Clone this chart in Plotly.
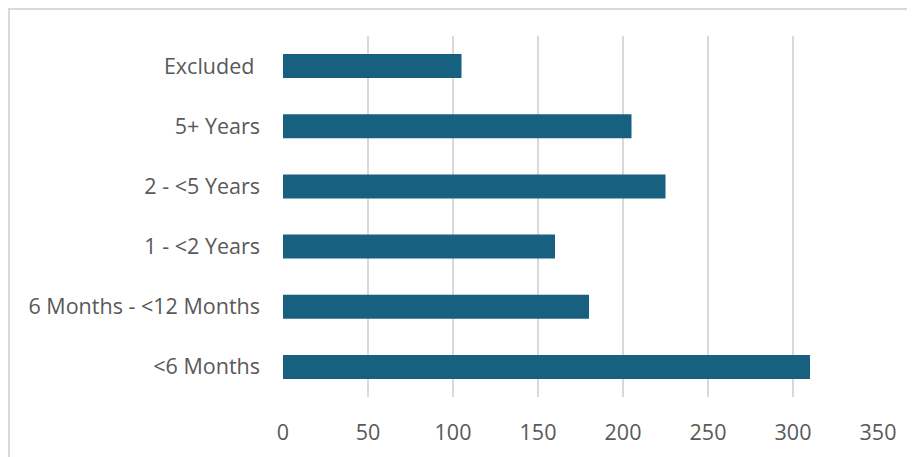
import plotly.graph_objects as go

categories = ["<6 Months", "6 Months - <12 Months", "1 - <2 Years", "2 - <5 Years", "5+ Years", "Excluded "]
values = [310, 180, 160, 225, 205, 105]
x_ticks = [0, 50, 100, 150, 200, 250, 300, 350]

# page body has an 8px margin; compensate so the figure lands where the reference is
OFF = 8
W, H = 915 - OFF, 457 - OFF
ml, mr, mt, mb = 283 - OFF, 37, 36 - OFF, 60
pw, ph = W - ml - mr, H - mt - mb

fig = go.Figure(go.Bar(
    x=values, y=categories, orientation="h",
    marker=dict(color="#17607f", line=dict(width=0)),
    width=0.4,
))

font = dict(family="Open Sans, Lato, sans-serif", size=21.5, color="#595959")

fig.update_layout(
    width=W, height=H,
    margin=dict(l=ml, r=mr, t=mt, b=mb, pad=0),
    plot_bgcolor="white", paper_bgcolor="white",
    showlegend=False,
    font=font,
    xaxis=dict(range=[0, 350], tickvals=x_ticks, showgrid=True, gridcolor="#d9d9d9",
               gridwidth=2, zeroline=False, showline=False, ticks="",
               ticklabelstandoff=20, tickfont=font, fixedrange=True),
    yaxis=dict(showgrid=False, zeroline=False, showline=False, ticks="",
               ticklabelstandoff=22, tickfont=font, fixedrange=True),
    bargap=0.6,
    shapes=[dict(type="rect", xref="paper", yref="paper",
                 x0=(1 - ml) / pw, x1=(W + 20 - ml) / pw,
                 y0=(H - mb - (H + 20)) / ph, y1=(H - mb - 1) / ph,
                 line=dict(color="#d9d9d9", width=2), fillcolor="rgba(0,0,0,0)", layer="below")],
)

fig.write_html("out.html")
